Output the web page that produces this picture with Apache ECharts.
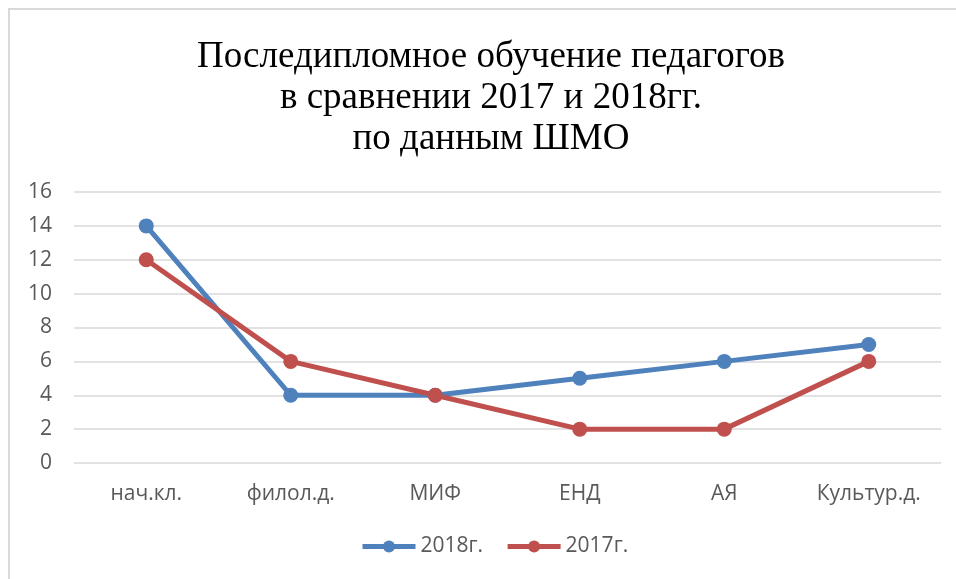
<!DOCTYPE html>
<html>
<head>
<meta charset="utf-8">
<script src="https://cdn.jsdelivr.net/npm/echarts@6/dist/echarts.min.js"></script>
<style>
  html, body { margin: 0; padding: 0; background: #fff; }
  #frame { position: absolute; left: 8px; top: 8px; width: 1000px; height: 700px; border: 2px solid #d9d9d9; box-sizing: border-box; }
  #main { position: absolute; left: 0; top: 0; width: 956px; height: 579px; }
</style>
</head>
<body>
<div id="frame"></div>
<div id="main"></div>
<script>
// категории и значения
var categories = ['нач.кл.', 'филол.д.', 'МИФ', 'ЕНД', 'АЯ', 'Культур.д.']
var data2018 = [14, 4, 4, 5, 6, 7]
var data2017 = [12, 6, 4, 2, 2, 6]
var yTicks = { min: 0, max: 16, interval: 2 }

var chart = echarts.init(document.getElementById('main'))
var labelColor = '#595959'
var sans = '"Open Sans", "Noto Sans", sans-serif'

chart.setOption({
  animation: false,
  title: {
    text: 'Последипломное обучение педагогов\nв сравнении 2017 и 2018гг.\nпо данным ШМО',
    left: 486,
    textAlign: 'center',
    top: 32,
    textStyle: {
      fontFamily: '"Liberation Serif", "DejaVu Serif", serif',
      fontWeight: 'normal',
      fontSize: 37,
      lineHeight: 41,
      color: '#000'
    }
  },
  legend: {
    bottom: 17,
    left: 355,
    itemWidth: 53,
    itemHeight: 15,
    itemGap: 22,
    lineStyle: { width: 5 },
    textStyle: { fontFamily: sans, fontSize: 21, color: labelColor },
    data: ['2018г.', '2017г.']
  },
  grid: {
    left: 74,
    right: 15,
    top: 192,
    bottom: 116,
    containLabel: false
  },
  xAxis: {
    type: 'category',
    data: categories,
    axisLine: { show: false },
    axisTick: { show: false },
    axisLabel: { color: labelColor, fontFamily: sans, fontSize: 21, margin: 21 }
  },
  yAxis: {
    type: 'value',
    min: yTicks.min,
    max: yTicks.max,
    interval: yTicks.interval,
    axisLine: { show: false },
    axisTick: { show: false },
    splitLine: { lineStyle: { color: '#d9d9d9', width: 1.5 } },
    axisLabel: { color: labelColor, fontFamily: sans, fontSize: 21, margin: 22 }
  },
  series: [
    {
      name: '2018г.',
      type: 'line',
      data: data2018,
      symbol: 'circle',
      symbolSize: 15,
      lineStyle: { width: 5, color: '#4f81bd' },
      itemStyle: { color: '#4f81bd' }
    },
    {
      name: '2017г.',
      type: 'line',
      data: data2017,
      symbol: 'circle',
      symbolSize: 15,
      lineStyle: { width: 5, color: '#c0504d' },
      itemStyle: { color: '#c0504d' }
    }
  ]
})
</script>
</body>
</html>
